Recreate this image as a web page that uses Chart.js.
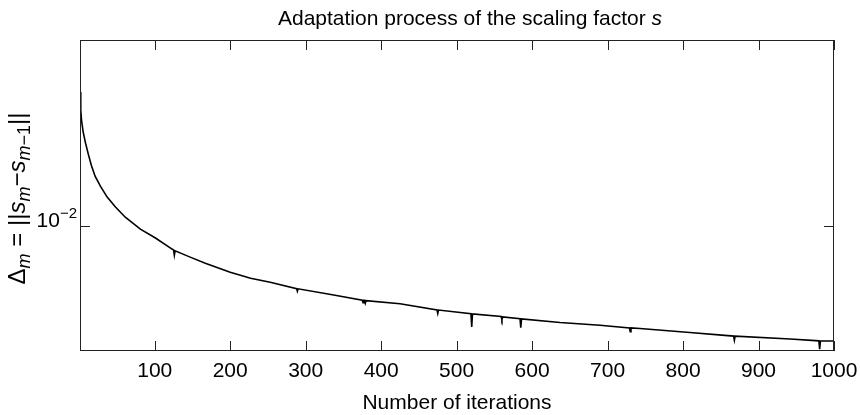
<!DOCTYPE html>
<html>
<head>
<meta charset="utf-8">
<script src="https://cdn.jsdelivr.net/npm/chart.js@4/dist/chart.umd.min.js"></script>
<style>
  html, body { margin: 0; padding: 0; background: #fff; }
  canvas { display: block; }
</style>
</head>
<body>
<canvas id="adapt" width="860" height="415"></canvas>
<script>
// iteration index m and step size delta_m = ||s_m - s_(m-1)||
const iterations = [1, 2, 3, 5, 8, 12, 16, 21, 28, 37, 48, 61, 81, 101, 121, 125, 126, 127, 147, 167, 200, 227, 253,
  288, 289, 290, 339, 375, 376, 377, 378, 379, 380, 425, 474, 475, 476, 519, 520, 521, 559, 560, 561,
  584, 585, 586, 637, 690, 729, 730, 731, 743, 809, 867, 868, 869, 942, 980, 981, 982, 1000];
const delta = [0.02208, 0.01985, 0.01872, 0.01754, 0.01644, 0.01531, 0.01435, 0.01345, 0.01268, 0.01189, 0.01121, 0.01056,
  0.00984, 0.00934, 0.00880, 0.00870, 0.00844, 0.00866, 0.008346, 0.008054, 0.007638, 0.007372, 0.007201,
  0.006929, 0.006828, 0.006925, 0.006669, 0.006475, 0.006380, 0.006470, 0.006470, 0.006361, 0.006460, 0.006342,
  0.006110, 0.005986, 0.006110, 0.005980, 0.005532, 0.005975, 0.005880, 0.005772, 0.005870,
  0.005805, 0.005506, 0.005800, 0.005677, 0.005588, 0.005500, 0.005377, 0.005500, 0.005479, 0.005352,
  0.005240, 0.005114, 0.005240, 0.005150, 0.005095, 0.004851, 0.005093, 0.005093];

const xTicks = [100, 200, 300, 400, 500, 600, 700, 800, 900, 1000];
const yTicks = [0.01];

const FONT = '"Liberation Sans", Arial, Helvetica, sans-serif';

// draws a row of text pieces with their own font and vertical offset
function drawRuns(ctx, runs, x, y, align) {
  let total = 0;
  runs.forEach(r => { ctx.font = r.f + ' ' + FONT; r.w = ctx.measureText(r.t).width; total += r.w; });
  let cx = align === 'center' ? x - total / 2 : align === 'right' ? x - total : x;
  ctx.textAlign = 'left';
  ctx.textBaseline = 'alphabetic';
  runs.forEach(r => {
    ctx.font = r.f + ' ' + FONT;
    ctx.fillText(r.t, cx, y + (r.dy || 0));
    cx += r.w;
  });
}

const frame = {
  id: 'frame',
  afterDraw(chart) {
    const { ctx, chartArea: a, scales: { x, y } } = chart;
    ctx.save();
    ctx.strokeStyle = '#222';
    ctx.lineWidth = 1;
    ctx.strokeRect(a.left + 0.5, a.top + 0.5, a.right - a.left - 1, a.bottom - a.top - 1);

    ctx.beginPath();
    x.ticks.forEach(t => {
      const px = Math.round(x.getPixelForValue(t.value)) + 0.5;
      ctx.moveTo(px, a.bottom); ctx.lineTo(px, a.bottom - 10);
      ctx.moveTo(px, a.top); ctx.lineTo(px, a.top + 10);
    });
    y.ticks.forEach(t => {
      const py = Math.round(y.getPixelForValue(t.value)) + 0.5;
      ctx.moveTo(a.left, py); ctx.lineTo(a.left + 10, py);
      ctx.moveTo(a.right, py); ctx.lineTo(a.right - 10, py);
    });
    ctx.stroke();

    ctx.fillStyle = '#000';
    // log tick labels as 10 with raised exponent
    y.ticks.forEach(t => {
      const py = y.getPixelForValue(t.value);
      const exp = Math.round(Math.log10(t.value));
      drawRuns(ctx, [
        { t: '10', f: '21px' },
        { t: (exp < 0 ? '\u2212' : '') + Math.abs(exp), f: '15px', dy: -9 }
      ], a.left - 3, py + 1, 'right');
    });

    const cx = (a.left + a.right) / 2;
    drawRuns(ctx, [
      { t: 'Adaptation process of the scaling factor ', f: '21px' },
      { t: 's', f: 'italic 21px' }
    ], cx + 13, 25, 'center');

    drawRuns(ctx, [{ t: 'Number of iterations', f: '21px' }], cx, 409, 'center');

    ctx.save();
    ctx.translate(25, (a.top + a.bottom) / 2 + 3);
    ctx.rotate(-Math.PI / 2);
    drawRuns(ctx, [
      { t: '\u0394', f: '24px' },
      { t: 'm', f: 'italic 18px', dy: 5 },
      { t: ' = ||', f: '24px' },
      { t: 's', f: 'italic 24px' },
      { t: 'm', f: 'italic 18px', dy: 5 },
      { t: '\u2212', f: '24px' },
      { t: 's', f: 'italic 24px' },
      { t: 'm', f: 'italic 18px', dy: 5 },
      { t: '\u22121', f: '18px', dy: 5 },
      { t: '||', f: '24px' }
    ], 0, 0, 'center');
    ctx.restore();
    ctx.restore();
  }
};

new Chart(document.getElementById('adapt'), {
  type: 'line',
  data: {
    datasets: [{
      data: iterations.map((m, i) => ({ x: m, y: delta[i] })),
      borderColor: '#000',
      borderWidth: 1.6,
      pointRadius: 0,
      tension: 0,
      fill: false
    }]
  },
  options: {
    responsive: false,
    devicePixelRatio: 1,
    animation: false,
    layout: { padding: { top: 40, right: 26, left: 0, bottom: 0 } },
    plugins: { legend: { display: false }, tooltip: { enabled: false } },
    scales: {
      x: {
        type: 'linear',
        min: 1,
        max: 1000,
        grid: { display: false, drawTicks: false },
        border: { display: false },
        ticks: {
          color: '#000', font: { family: FONT, size: 21 }, padding: 8, maxRotation: 0,
          callback: v => String(v)
        },
        afterBuildTicks: s => { s.ticks = xTicks.map(v => ({ value: v })); },
        // keep the plot edges fixed, the last label fits in the right padding
        afterFit: s => { s.height = 64; s.paddingLeft = 0; s.paddingRight = 0; }
      },
      y: {
        type: 'logarithmic',
        min: 0.0048,
        max: 0.03,
        grid: { display: false, drawTicks: false },
        border: { display: false },
        ticks: { display: false },
        afterBuildTicks: s => { s.ticks = yTicks.map(v => ({ value: v })); },
        afterFit: s => { s.width = 80; }
      }
    }
  },
  plugins: [frame]
});
</script>
</body>
</html>
